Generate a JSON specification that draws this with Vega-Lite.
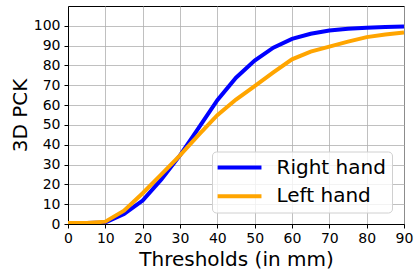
{
  "$schema": "https://vega.github.io/schema/vega-lite/v6.json",
  "width": 336,
  "height": 218,
  "autosize": {"type": "none"},
  "padding": {"left": 68, "top": 6, "right": 15, "bottom": 52},
  "background": "white",
  "config": {
    "font": "DejaVu Sans",
    "view": {"stroke": "black", "strokeWidth": 1},
    "axis": {
      "domainColor": "black",
      "tickColor": "black",
      "tickSize": 4,
      "labelColor": "black",
      "labelFontSize": 14,
      "labelFont": "DejaVu Sans",
      "titleFont": "DejaVu Sans",
      "titleFontSize": 20,
      "titleFontWeight": "normal",
      "titleColor": "black",
      "gridColor": "#b0b0b0",
      "gridWidth": 0.8,
      "labelFlush": false
    }
  },
  "data": {
    "values": [
      {"t": 0, "pck": 0.5, "hand": "Right hand"},
      {"t": 5, "pck": 0.5, "hand": "Right hand"},
      {"t": 10, "pck": 0.8, "hand": "Right hand"},
      {"t": 15, "pck": 5.1, "hand": "Right hand"},
      {"t": 20, "pck": 11.8, "hand": "Right hand"},
      {"t": 25, "pck": 22.5, "hand": "Right hand"},
      {"t": 30, "pck": 34.6, "hand": "Right hand"},
      {"t": 35, "pck": 48.5, "hand": "Right hand"},
      {"t": 40, "pck": 62.5, "hand": "Right hand"},
      {"t": 45, "pck": 73.8, "hand": "Right hand"},
      {"t": 50, "pck": 82.5, "hand": "Right hand"},
      {"t": 55, "pck": 89, "hand": "Right hand"},
      {"t": 60, "pck": 93.4, "hand": "Right hand"},
      {"t": 65, "pck": 96, "hand": "Right hand"},
      {"t": 70, "pck": 97.6, "hand": "Right hand"},
      {"t": 75, "pck": 98.5, "hand": "Right hand"},
      {"t": 80, "pck": 99.0, "hand": "Right hand"},
      {"t": 85, "pck": 99.4, "hand": "Right hand"},
      {"t": 90, "pck": 99.7, "hand": "Right hand"},
      {"t": 0, "pck": 0.5, "hand": "Left hand"},
      {"t": 5, "pck": 0.5, "hand": "Left hand"},
      {"t": 10, "pck": 1.2, "hand": "Left hand"},
      {"t": 15, "pck": 6.7, "hand": "Left hand"},
      {"t": 20, "pck": 15.5, "hand": "Left hand"},
      {"t": 25, "pck": 25, "hand": "Left hand"},
      {"t": 30, "pck": 34.6, "hand": "Left hand"},
      {"t": 35, "pck": 45, "hand": "Left hand"},
      {"t": 40, "pck": 54.9, "hand": "Left hand"},
      {"t": 45, "pck": 62.8, "hand": "Left hand"},
      {"t": 50, "pck": 69.6, "hand": "Left hand"},
      {"t": 55, "pck": 76.5, "hand": "Left hand"},
      {"t": 60, "pck": 83.1, "hand": "Left hand"},
      {"t": 65, "pck": 87, "hand": "Left hand"},
      {"t": 70, "pck": 89.5, "hand": "Left hand"},
      {"t": 75, "pck": 92, "hand": "Left hand"},
      {"t": 80, "pck": 94.3, "hand": "Left hand"},
      {"t": 85, "pck": 95.6, "hand": "Left hand"},
      {"t": 90, "pck": 96.6, "hand": "Left hand"}
    ]
  },
  "mark": {"type": "line", "strokeWidth": 4, "clip": true},
  "encoding": {
    "x": {
      "field": "t", "type": "quantitative",
      "scale": {"domain": [0, 90], "nice": false},
      "axis": {"values": [0,10,20,30,40,50,60,70,80,90], "title": "Thresholds (in mm)", "labelPadding": 3, "titlePadding": 4}
    },
    "y": {
      "field": "pck", "type": "quantitative",
      "scale": {"domain": [0, 110], "nice": false},
      "axis": {"values": [0,10,20,30,40,50,60,70,80,90,100], "title": "3D PCK", "labelPadding": 4, "titlePadding": 3}
    },
    "color": {
      "field": "hand", "type": "nominal",
      "sort": ["Right hand", "Left hand"],
      "scale": {"domain": ["Right hand", "Left hand"], "range": ["#0000ff", "#ffa500"]},
      "legend": {
        "title": null,
        "orient": "none",
        "legendX": 144,
        "legendY": 145.5,
        "symbolType": "M-2.37,0H7.63",
        "symbolSize": 77,
        "symbolStrokeWidth": 4,
        "labelFontSize": 20,
        "labelFont": "DejaVu Sans",
        "labelColor": "black",
        "labelOffset": 38.5,
        "rowPadding": 8.7,
        "padding": 6,
        "strokeColor": "#d0d0d0",
        "fillColor": "rgba(255,255,255,0.8)",
        "cornerRadius": 4
      }
    }
  }
}
